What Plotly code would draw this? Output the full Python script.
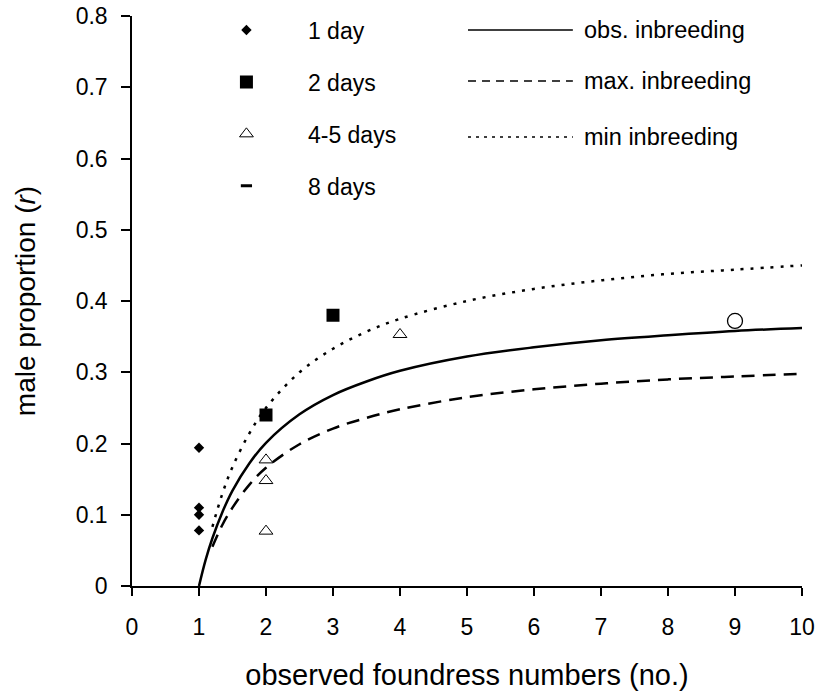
import plotly.graph_objects as go

# --- data ---
day1_x = [1, 1, 1, 1]
day1_y = [0.194, 0.110, 0.100, 0.078]
day2_x = [2, 3]
day2_y = [0.240, 0.380]
day45_x = [2, 2, 2, 4]
day45_y = [0.177, 0.148, 0.077, 0.353]
day8_x = [9]
day8_y = [0.372]

obs_x = [1, 1.1, 1.2, 1.35, 1.5, 1.75, 2, 2.5, 3, 3.5, 4, 5, 6, 7, 8, 9, 10]
obs_y = [0, 0.037, 0.067, 0.104, 0.134, 0.172, 0.201, 0.241, 0.268, 0.287, 0.302,
         0.322, 0.335, 0.345, 0.352, 0.358, 0.362]
bound_x = [1.2, 1.35, 1.5, 1.75, 2, 2.5, 3, 3.5, 4, 5, 6, 7, 8, 9, 10]
max_y = [0.055, 0.086, 0.110, 0.142, 0.166, 0.199, 0.221, 0.236, 0.248, 0.265,
         0.276, 0.284, 0.290, 0.294, 0.298]
min_y = [0.083, 0.130, 0.167, 0.214, 0.250, 0.300, 0.333, 0.357, 0.375, 0.400,
         0.417, 0.429, 0.438, 0.444, 0.450]

x_ticks = list(range(0, 11))
y_ticks = [0, 0.1, 0.2, 0.3, 0.4, 0.5, 0.6, 0.7, 0.8]
y_tick_labels = ["0", "0.1", "0.2", "0.3", "0.4", "0.5", "0.6", "0.7", "0.8"]

FONT = "Liberation Sans, Arial, sans-serif"

fig = go.Figure()

# model curves
fig.add_trace(go.Scatter(x=obs_x, y=obs_y, mode="lines", line_shape="spline",
                         line=dict(color="black", width=2.5), showlegend=False,
                         name="obs. inbreeding"))
fig.add_trace(go.Scatter(x=bound_x, y=max_y, mode="lines", line_shape="spline",
                         line=dict(color="black", width=2.5, dash="13px,8px"),
                         showlegend=False, name="max. inbreeding"))
fig.add_trace(go.Scatter(x=bound_x, y=min_y, mode="lines", line_shape="spline",
                         line=dict(color="black", width=2.5, dash="3px,7px"),
                         showlegend=False, name="min inbreeding"))

# data points
fig.add_trace(go.Scatter(x=day1_x, y=day1_y, mode="markers", name="1 day",
                         legendgroup="g1",
                         marker=dict(symbol="diamond", size=8, color="black")))
fig.add_trace(go.Scatter(x=day2_x, y=day2_y, mode="markers", name="2 days",
                         legendgroup="g2",
                         marker=dict(symbol="square", size=13, color="black")))
fig.add_trace(go.Scatter(x=day45_x, y=day45_y, mode="markers", name="4-5 days",
                         legendgroup="g3",
                         marker=dict(symbol="triangle-up-open", size=12, color="black",
                                     line=dict(width=1))))
fig.add_trace(go.Scatter(x=day8_x, y=day8_y, mode="markers", name="8 days",
                         legendgroup="g4", showlegend=False,
                         marker=dict(symbol="circle-open", size=15, color="black",
                                     line=dict(width=1.3))))
fig.add_trace(go.Scatter(x=[None], y=[None], mode="markers", name="8 days",
                         legendgroup="g4",
                         marker=dict(symbol="line-ew", size=8, color="black",
                                     line=dict(width=3, color="black"))))

# manual line legend (right column)
line_rows = [("obs. inbreeding", "solid", 0.9754),
             ("max. inbreeding", "8px,6px", 0.886),
             ("min inbreeding", "3px,5px", 0.7877)]
shapes = []
annotations = []
for label, dash, yp in line_rows:
    shapes.append(dict(type="line", xref="paper", yref="paper", x0=0.5015, x1=0.658,
                       y0=yp, y1=yp, line=dict(color="black", width=1.5, dash=dash)))
    annotations.append(dict(text=label, xref="paper", yref="paper", x=0.672, y=yp,
                            xanchor="left", yanchor="middle", showarrow=False,
                            font=dict(family=FONT, size=23.5, color="black")))

fig.update_layout(
    width=821, height=691,
    margin=dict(l=132, r=19, t=16, b=105, autoexpand=False),
    paper_bgcolor="white", plot_bgcolor="white",
    font=dict(family=FONT, color="black"),
    shapes=shapes, annotations=annotations,
    legend=dict(x=0.079, y=1.013, xanchor="left", yanchor="top",
                font=dict(family=FONT, size=23, color="black"),
                bgcolor="rgba(0,0,0,0)", itemwidth=113,
                tracegroupgap=19, traceorder="grouped"),
)
fig.update_xaxes(range=[0, 10], tickmode="array", tickvals=x_ticks,
                 ticks="outside", ticklen=8, tickwidth=1.5, tickcolor="black",
                 showline=True, linecolor="black", linewidth=1.5,
                 showgrid=False, zeroline=False, ticklabelstandoff=12,
                 automargin=False, ticklabeloverflow="allow",
                 tickfont=dict(family=FONT, size=23, color="black"),
                 title=dict(text="observed foundress numbers (no.)", standoff=26,
                            font=dict(family=FONT, size=29, color="black")))
fig.update_yaxes(range=[0, 0.8], tickmode="array", tickvals=y_ticks,
                 ticktext=y_tick_labels,
                 ticks="outside", ticklen=9, tickwidth=1.5, tickcolor="black",
                 showline=True, linecolor="black", linewidth=1.5,
                 showgrid=False, zeroline=False, ticklabelstandoff=9,
                 automargin=False, ticklabeloverflow="allow",
                 tickfont=dict(family=FONT, size=23, color="black"),
                 title=dict(text="male proportion (<i>r</i>)", standoff=32,
                            font=dict(family=FONT, size=28, color="black")))

# remove the default 8px page margin so the 821x691 figure fills the window
fig.write_html("out.html",
               config={"displayModeBar": False},
               post_script="document.body.style.margin='0';document.body.style.overflow='hidden';")
